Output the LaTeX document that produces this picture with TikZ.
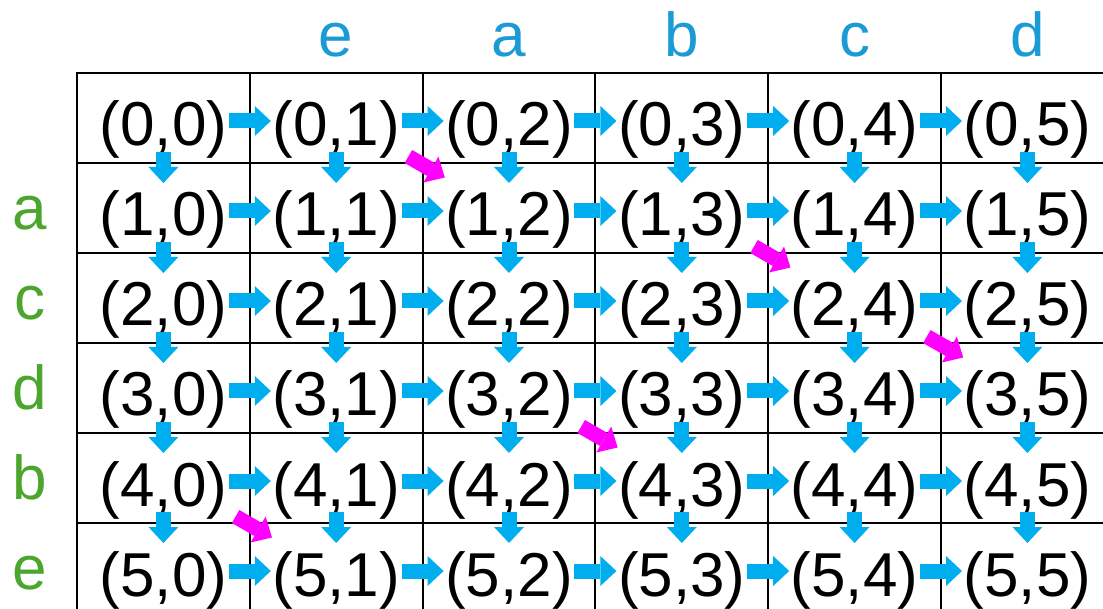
\documentclass[tikz,border=0pt]{standalone}
\usepackage{fontspec}
\setmainfont{Liberation Sans}
\usetikzlibrary{arrows.meta,calc}
\definecolor{lblblue}{RGB}{27,155,214}
\definecolor{arrblue}{RGB}{0,174,239}
\definecolor{lblgreen}{RGB}{76,166,46}
\definecolor{mag}{RGB}{255,0,255}
\tikzset{
  cell/.style={anchor=base, inner sep=0pt, font=\fontsize{62}{62}\selectfont},
  collbl/.style={cell, text=lblblue},
  rowlbl/.style={cell, text=lblgreen},
  blk/.style={line width=15pt, -{Triangle[width=30pt,length=16pt,line width'=0pt]}},
  flow/.style={blk, draw=arrblue},
  diag/.style={blk, draw=mag},
  gridline/.style={line width=2.7pt, draw=black}
}
\begin{document}
\begin{tikzpicture}[x=1pt,y=-1pt]
\useasboundingbox (0,0) rectangle (1103,609);
\clip (0,0) rectangle (1103,609);
% grid
\draw[gridline] (1120,73) -- (77,73) -- (77,620);
\foreach \y in {163,253,343,433,523} \draw[gridline] (77,\y) -- (1120,\y);
\foreach \x in {250,423,595,768,941} \draw[gridline] (\x,73) -- (\x,620);
% cells
\foreach \r in {0,...,5}
  \foreach \c in {0,...,5}
    \node[cell] (n\r\c) at ({163.4+172.8*\c},{146+90*\r}) {(\r,\c)};
% column labels
\foreach \c/\t in {1/e,2/a,3/b,4/c,5/d}
  \node[collbl] (top\c) at ({163.4+172.8*\c},57) {\t};
% row labels
\foreach \r/\t in {1/a,2/c,3/d,4/b,5/e}
  \node[rowlbl] (left\r) at (30,{139.5+90*\r}) {\t};
% horizontal arrows
\foreach \r in {0,...,5}
  \foreach \c in {0,...,4}{
    \pgfmathtruncatemacro{\nxc}{\c+1}
    \draw[flow] ($(n\r\c.base)!.5!(n\r\nxc.base)+(-21,-25)$) -- ($(n\r\c.base)!.5!(n\r\nxc.base)+(21,-25)$);
  }
% vertical arrows
\foreach \r in {0,...,4}
  \foreach \c in {0,...,5}{
    \pgfmathtruncatemacro{\nxr}{\r+1}
    \draw[flow] ($(n\r\c.base)!.5!(n\nxr\c.base)+(0,-39)$) -- ($(n\r\c.base)!.5!(n\nxr\c.base)+(0,-8)$);
  }
% diagonal (magenta) arrows
\foreach \a/\b in {01/12,13/24,24/35,32/43,40/51}
  \draw[diag] ($(n\a.base)!.5!(n\b.base)+(-14.2,-34.5)$) -- ($(n\a.base)!.5!(n\b.base)+(22.2,-13.5)$);
\end{tikzpicture}
\end{document}
